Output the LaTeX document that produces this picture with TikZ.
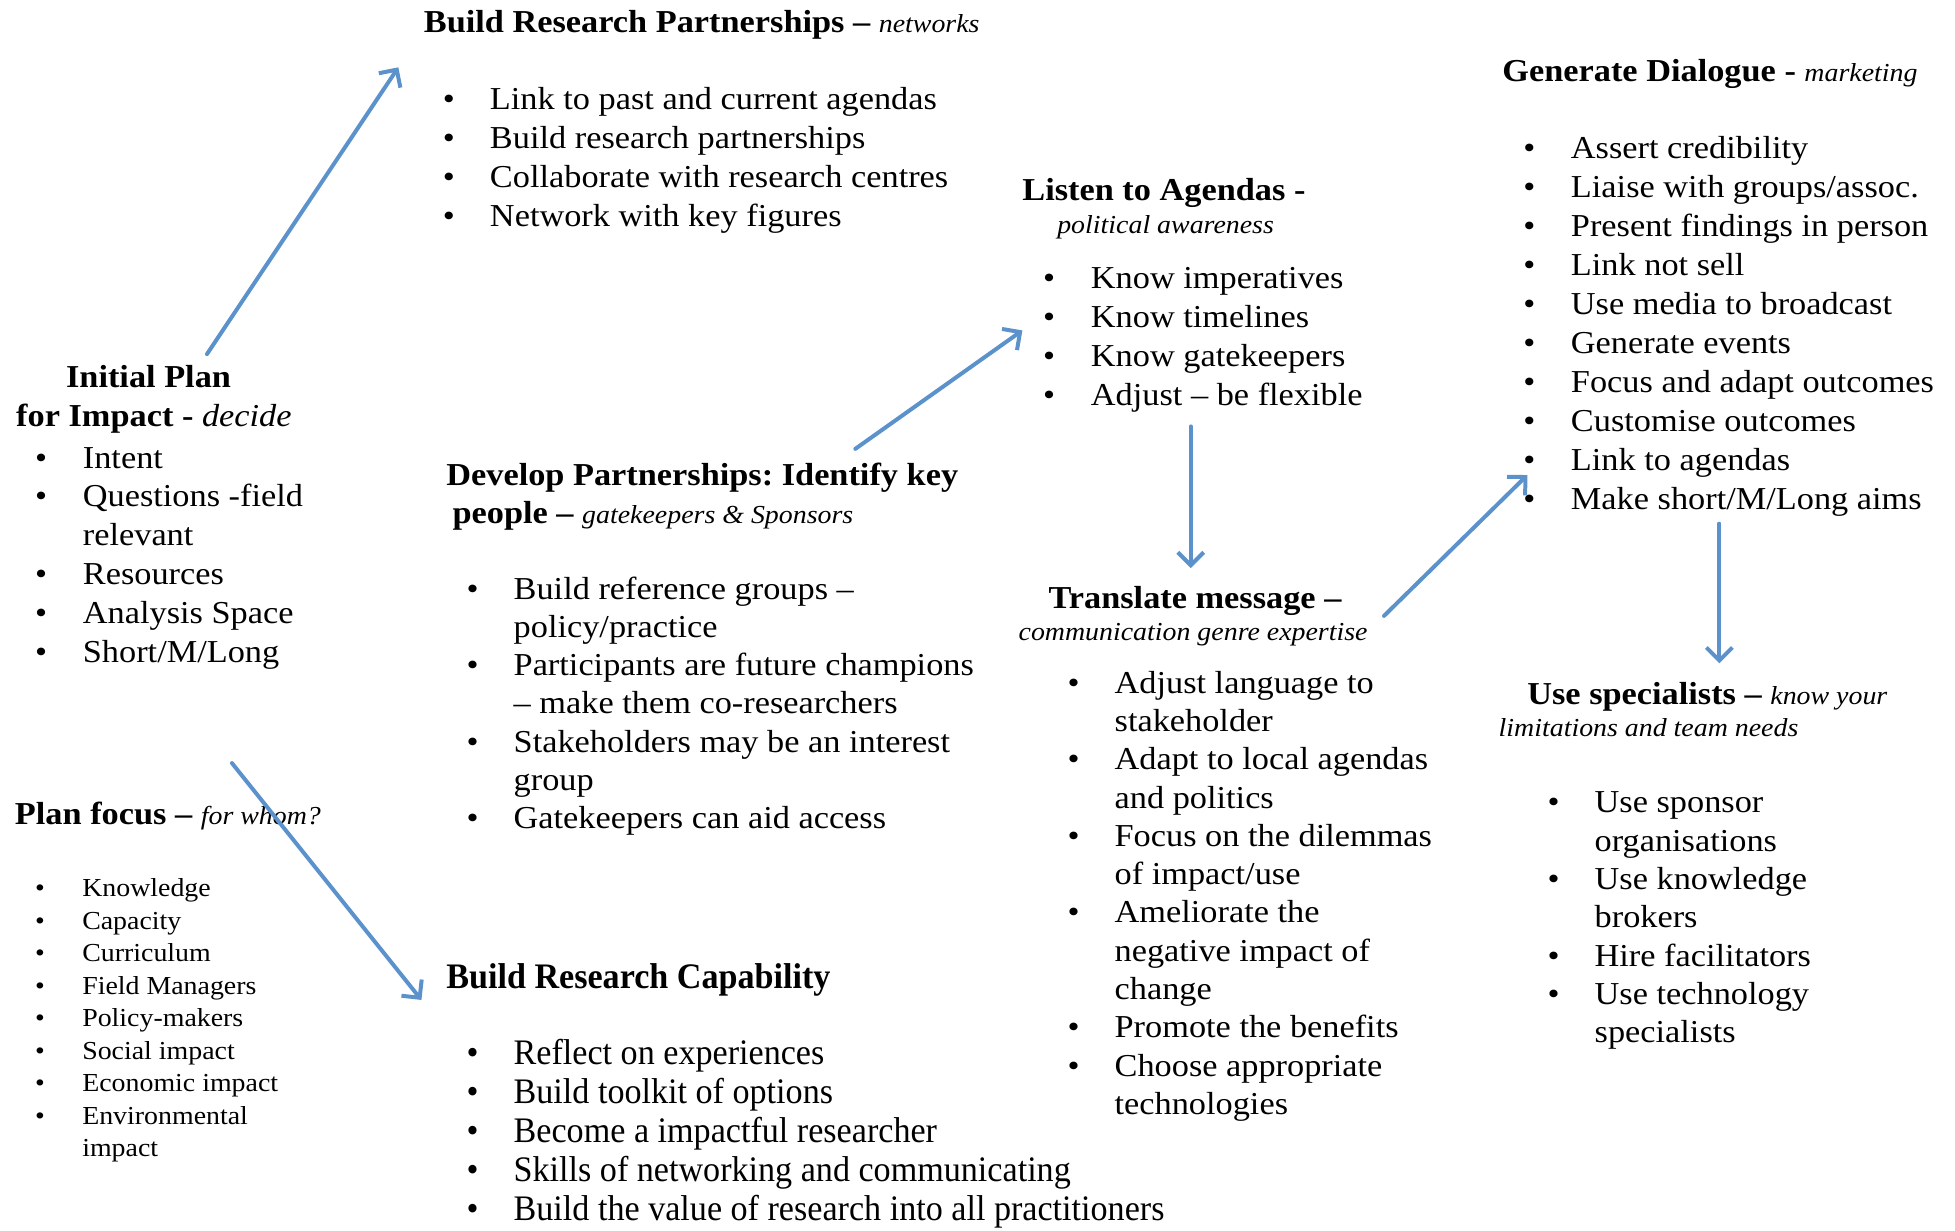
\documentclass[tikz,border=0pt]{standalone}
\usepackage{fontspec}
\setmainfont{Liberation Serif}[FakeStretch=1.075]
\newfontfamily\condfont{Liberation Serif}[FakeStretch=0.95]
\usetikzlibrary{arrows.meta}
\definecolor{arrowblue}{RGB}{91,146,204}
\newdimen\upx \upx=0.625pt
\newdimen\bcx \newdimen\btx \newdimen\blsk
\newcommand\stp[4]{\setlength\bcx{#1\upx}\setlength\btx{#2\upx}\setlength\blsk{#3\upx}\fontsize{#4}{\blsk}\selectfont\setlength\lineskiplimit{-100pt}\setlength\lineskip{0pt}\setlength\parskip{0pt}\setlength\parindent{0pt}\raggedright\frenchspacing\hyphenpenalty=10000 }
\newcommand\gap[1]{\par\vspace{\dimexpr #1\upx-\blsk\relax}}
\newcommand\blt[1]{\par\hspace*{\bcx}\makebox[0pt]{\textbullet}\hspace*{\dimexpr\btx-\bcx\relax}#1}
\newcommand\cont[1]{\par\hspace*{\btx}#1}
\newcommand\subit[1]{{\fontsize{13pt}{\blsk}\selectfont\itshape #1}}
\newcommand\wbox[1]{\parbox[t]{760\upx}{#1}}
\tikzset{
  blk/.style={inner sep=0pt, outer sep=0pt, anchor=base west},
  conn/.style={draw=arrowblue, line width=2pt, line cap=round, -{Straight Barb[length=6.5pt,width=13pt]}}
}
\begin{document}
\begin{tikzpicture}[x=0.625pt,y=-0.625pt]
\useasboundingbox (0,0) rectangle (1568,987);

% Build Research Partnerships
\node[blk] (brp) at (340,26) {\wbox{\stp{20}{53}{31.3}{16pt}%
\textbf{Build Research Partnerships –} \subit{networks}
\gap{62}
\blt{Link to past and current agendas}
\blt{Build research partnerships}
\blt{Collaborate with research centres}
\blt{Network with key figures}}};

% Listen to Agendas
\node[blk] (listen) at (820,161) {\wbox{\stp{21.5}{55}{31.3}{16pt}%
\textbf{Listen to Agendas -}
\gap{26}
\hspace*{28\upx}\subit{political awareness}
\gap{44}
\blt{Know imperatives}
\blt{Know timelines}
\blt{Know gatekeepers}
\blt{Adjust – be flexible}}};

% Generate Dialogue
\node[blk] (gen) at (1205,65.5) {\wbox{\stp{21.6}{55}{31.3}{16pt}%
\textbf{Generate Dialogue -} \subit{marketing}
\gap{61.5}
\blt{Assert credibility}
\blt{Liaise with groups/assoc.}
\blt{Present findings in person}
\blt{Link not sell}
\blt{Use media to broadcast}
\blt{Generate events}
\blt{Focus and adapt outcomes}
\blt{Customise outcomes}
\blt{Link to agendas}
\blt{Make short/M/Long aims}}};

% Translate message
\node[blk] (trans) at (817,488) {\wbox{\stp{44}{77}{30.7}{16pt}%
\hspace*{24\upx}\textbf{Translate message –}
\gap{25.5}
\subit{communication genre expertise}
\gap{42.5}
\blt{Adjust language to}
\cont{stakeholder}
\blt{Adapt to local agendas}
\cont{and politics}
\blt{Focus on the dilemmas}
\cont{of impact/use}
\blt{Ameliorate the}
\cont{negative impact of}
\cont{change}
\blt{Promote the benefits}
\blt{Choose appropriate}
\cont{technologies}}};

% Use specialists
\node[blk] (spec) at (1202,565) {\wbox{\stp{44}{77}{30.7}{16pt}%
\hspace*{23\upx}\textbf{Use specialists –} \subit{know your}
\gap{25.5}
\subit{limitations and team needs}
\gap{61.5}
\blt{Use sponsor}
\cont{organisations}
\blt{Use knowledge}
\cont{brokers}
\blt{Hire facilitators}
\blt{Use technology}
\cont{specialists}}};

% Develop Partnerships
\node[blk] (dev) at (358,389) {\wbox{\stp{21}{54}{30.7}{16pt}%
\textbf{Develop Partnerships: Identify key}
\gap{31}
\hspace*{5\upx}\textbf{people –} \subit{gatekeepers \& Sponsors}
\gap{60.5}
\blt{Build reference groups –}
\cont{policy/practice}
\blt{Participants are future champions}
\cont{– make them co-researchers}
\blt{Stakeholders may be an interest}
\cont{group}
\blt{Gatekeepers can aid access}}};

% Build Research Capability
\node[blk] (cap) at (358,793) {\wbox{\stp{21}{54}{31.3}{18pt}\condfont
\textbf{Build Research Capability}
\gap{61}
\blt{Reflect on experiences}
\blt{Build toolkit of options}
\blt{Become a impactful researcher}
\blt{Skills of networking and communicating}
\blt{Build the value of research into all practitioners}}};

% Initial Plan for Impact
\node[blk] (init) at (13,311) {\wbox{\stp{20}{53.5}{31.1}{16pt}%
\hspace*{40\upx}\textbf{Initial Plan}
\gap{31}
\textbf{for Impact -} {\itshape decide}
\gap{33.5}
\blt{Intent}
\blt{Questions -field}
\cont{relevant}
\blt{Resources}
\blt{Analysis Space}
\blt{Short/M/Long}}};

% Plan focus
\node[blk] (focus) at (12,661.5) {\wbox{\stp{20}{54}{26.1}{16pt}%
\textbf{Plan focus –} \subit{for whom?}
\gap{57.5}\fontsize{13pt}{\blsk}\selectfont
\blt{Knowledge}
\blt{Capacity}
\blt{Curriculum}
\blt{Field Managers}
\blt{Policy-makers}
\blt{Social impact}
\blt{Economic impact}
\blt{Environmental}
\cont{impact}}};

% connector end points
\coordinate (a1s) at (166,284);  \coordinate (a1e) at (319.5,54);
\coordinate (a2s) at (186,612);  \coordinate (a2e) at (338,802);
\coordinate (a3s) at (686,360);  \coordinate (a3e) at (820,265);
\coordinate (a4s) at (955,342);  \coordinate (a4e) at (955,455.6);
\coordinate (a5s) at (1110,494); \coordinate (a5e) at (1225,381);
\coordinate (a6s) at (1379,420); \coordinate (a6e) at (1379,532);

\draw[conn] (a1s) -- (a1e);
\draw[conn] (a2s) -- (a2e);
\draw[conn] (a3s) -- (a3e);
\draw[conn] (a4s) -- (a4e);
\draw[conn] (a5s) -- (a5e);
\draw[conn] (a6s) -- (a6e);
\end{tikzpicture}
\end{document}
